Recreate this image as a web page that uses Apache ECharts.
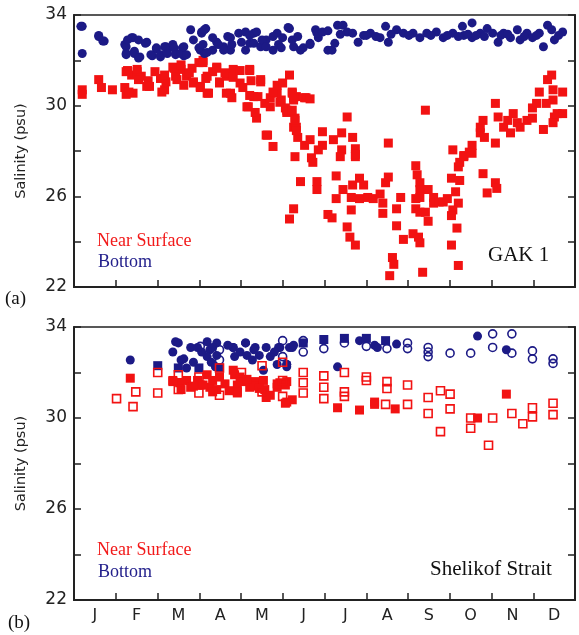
<!DOCTYPE html>
<html><head><meta charset="utf-8">
<script src="https://cdn.jsdelivr.net/npm/echarts@6/dist/echarts.min.js"></script>
<style>html,body{margin:0;padding:0;background:#fff}#c{width:579px;height:635px}</style>
</head><body><div id="c"></div>
<script>
// x = day of year, y = salinity (psu)
const months = ['J','F','M','A','M','J','J','A','S','O','N','D'];
const yTicks = [22,26,30,34];

const gakBottom = [
[6,33.5],[6,32.3],[18,33.1],[22,32.85],[5,33.5],[18,33.05],[21,32.85],
[37,32.7],[38,32.3],[42,33.0],[43,33.0],[44,32.4],[48,32.15],[53,32.8],[57,32.2],[60,32.5],[63,32.15],[67,32.6],[68,32.45],[72,32.7],[74,32.3],[79,32.55],[80,32.2],[85,33.35],[87,32.9],[93,33.2],[96,33.4],[92,32.45],[95,32.3],[101,32.45],[104,32.8],[109,32.6],[114,33.0],[114,32.45],[120,33.2],[125,33.25],[131,33.2],[133,33.25],[128,32.75],[136,32.6],[140,32.9],[145,32.45],[148,33.2],[152,33.0],[157,33.4],[160,32.6],
[38,32.6],[39,32.9],[47,32.9],[52,32.75],[38,32.25],[44,32.3],[47,32.1],[56,32.25],[60,32.55],[63,32.25],[66,32.6],[68,32.3],[73,32.55],[74,32.25],[78,32.3],[80,32.6],[82,32.25],[91,32.55],[93,33.25],
[95,33.35],[94,32.7],[97,32.35],[101,33.0],[105,32.7],[109,32.45],[112,33.05],[115,32.7],[122,32.8],[125,32.45],[128,33.1],[131,32.75],[137,32.9],[140,32.6],[145,33.05],[149,32.7],[151,32.55],[156,33.45],[159,32.9],[163,33.05],[167,32.55],[172,32.7],[176,33.35],[178,33.0],[185,32.45],
[165,32.45],[172,32.75],[177,33.2],[181,33.25],[188,32.45],[190,32.75],[192,33.55],[196,33.55],[199,33.25],[203,33.2],[207,32.8],[211,33.1],[216,33.2],[223,33.0],[227,33.5],[229,32.8],[235,33.35],[240,33.2],[247,33.2],[252,33.0],[257,33.2],[264,33.25],[269,33.0],[276,33.2],[283,33.5],[284,33.1],[290,33.65],[290,33.0],[296,33.2],[301,33.4],[305,33.2],[309,32.8],[313,33.2],[318,33.0],[323,33.35],[325,32.9],[330,33.2],[334,33.0],[339,33.2],[342,32.6],[345,33.55],[348,33.35],[350,32.9],[356,33.25],
[244,33.1],[260,33.1],[272,33.1],[280,33.05],[287,33.15],[293,33.1],[299,33.05],[311,33.1],[316,33.15],[328,33.05],[337,33.1],[353,33.1],[220,33.05],[231,33.15],[213,33.1],[185,33.3],[194,33.15]
];

const gakSurface = [
[6,30.7],[6,30.5],[18,31.15],[20,30.8],[28,30.7],[37,30.8],[38,30.5],[39,31.55],[42,31.35],[43,30.55],[46,31.5],[49,31.3],[53,30.85],[54,31.1],[59,31.5],[63,31.2],[66,30.7],[67,31.05],[72,31.7],[74,31.3],[78,31.6],[80,30.9],[82,31.3],[86,31.65],[87,31.0],[92,30.85],[94,32.0],[97,31.3],[98,30.55],[101,31.5],[104,31.7],[106,31.0],[111,31.3],[114,30.55],[116,31.6],[121,31.0],[126,29.95],[128,31.6],[131,30.4],[133,29.45],[136,31.15],[140,28.7],[143,29.95],[145,28.2],[148,30.55],[151,30.25],[155,29.8],[157,31.35],[160,29.05],[161,27.75],[162,30.4],[165,26.65],[160,25.45],[157,25.0],
[38,31.5],[40,30.6],[46,31.6],[47,31.15],[55,30.85],[64,30.6],[66,31.35],[73,31.65],[75,31.15],[78,31.8],[84,31.45],[87,31.05],[91,31.9],[92,30.8],
[94,31.9],[96,31.2],[97,30.55],[104,31.65],[106,31.05],[110,31.45],[111,30.55],[115,30.35],[116,31.25],[121,31.55],[123,30.8],[128,31.55],[129,31.1],[128,30.45],[127,29.95],[136,31.05],[134,30.4],[139,30.1],[143,30.35],[145,30.6],[148,30.9],[152,31.0],[150,30.15],[154,29.9],[159,30.6],[160,30.35],[155,29.7],[161,29.45],[169,30.35],
[132,29.7],[141,28.7],[162,29.05],[163,28.6],[168,28.25],[172,28.5],[181,28.85],[181,28.25],[174,27.5],[177,26.65],[177,26.3],[185,25.2],
[159,30.55],[160,30.25],[168,30.35],[172,30.3],[159,29.8],[161,29.35],[162,28.9],[178,28.05],[173,27.7],[189,28.5],[195,28.8],[199,29.5],[195,28.05],[203,28.6],[205,28.1],[194,27.75],[205,27.75],[229,28.35],[256,29.8],[276,28.05],[284,27.8],[288,27.95],[290,28.25],[296,28.8],[296,29.05],[298,29.35],[299,28.6],[307,30.1],[307,28.35],[309,29.5],[313,29.05],[316,29.35],[318,28.8],[320,29.65],[323,29.25],[325,29.05],[330,29.35],[334,29.45],[334,29.9],[337,30.1],[339,30.6],[342,28.95],[344,30.1],[345,31.15],[348,31.35],[349,30.7],[349,30.25],[350,29.5],[352,29.65],[356,30.6],[356,29.65],[349,29.25],
[188,25.05],[191,26.9],[191,25.9],[196,26.3],[199,24.65],[201,24.2],[202,25.4],[202,25.95],[205,23.85],[205,27.85],[203,26.5],[208,26.8],[208,25.9],[211,26.5],[214,25.95],[218,25.9],[223,26.1],[225,25.7],[225,25.25],[227,26.6],[229,26.85],[232,23.3],[233,23.0],[230,22.5],[235,24.7],[235,25.45],[238,25.95],[240,24.1],[247,24.35],[249,27.35],[250,26.95],[252,26.6],[252,26.3],[252,25.95],[249,25.9],[249,25.45],[252,25.3],[256,25.3],[258,24.9],[251,24.2],[252,23.95],[254,22.65],[258,26.3],[262,25.95],[262,25.7],[266,25.75],[269,25.75],[272,25.9],[275,26.8],[278,26.2],[280,25.7],[276,25.4],[275,25.15],[279,24.6],[275,23.85],[280,22.95],[280,27.3],[281,27.5],[284,27.75],[290,27.9],[281,26.7],[298,27.0],[301,26.15],[307,26.6],[308,26.35]
];

const shelBottomFilled = [
[41,32.55],[76,33.3],[72,32.9],[80,32.6],[85,33.1],[82,32.2],[87,32.45],[97,33.35],[99,33.0],[104,33.3],[97,32.7],[100,32.45],[103,32.25],[116,33.1],[117,32.7],[121,32.9],[125,33.3],[126,32.75],[130,32.55],[132,33.1],[135,32.75],[140,33.1],[143,32.7],[148,32.35],[150,33.1],[155,32.35],[159,33.1],[155,32.25],[192,32.25],[208,33.4],[219,33.2],[221,33.1],[235,33.25],[294,33.6],[315,33.0],
[74,33.35],[78,32.55],[90,33.1],[101,33.1],[104,32.75],[116,33.1],[125,33.3],[131,33.0],[138,32.1],[149,33.1],[157,33.1],[155,32.35],[112,33.2],[93,32.9],[146,32.9],[160,33.2]
];
const shelBottomSquare = [[61,32.3],[76,32.2],[91,32.2],[106,32.2],[167,33.3],[182,33.45],[197,33.5],[213,33.5],[227,33.4]];
const shelBottomOpen = [
[92,33.15],[106,33.0],[106,32.55],[152,33.4],[152,32.7],[167,33.4],[167,32.9],[182,33.05],[197,33.3],[213,33.15],[228,33.05],[243,33.3],[243,33.05],[258,33.1],[258,32.9],[258,32.7],[274,32.85],[289,32.85],[305,33.7],[305,33.1],[319,33.7],[319,32.85],[334,32.95],[334,32.6],[349,32.6],[349,32.4]
];
const shelSurfFilled = [
[41,31.75],[72,31.65],[77,31.55],[82,31.65],[85,31.35],[90,31.65],[92,31.45],[97,31.9],[99,31.35],[101,31.65],[106,31.8],[104,31.25],[117,31.9],[119,31.45],[121,31.8],[123,31.6],[119,31.1],[128,31.35],[132,31.6],[138,31.65],[139,31.25],[143,31.0],[148,31.35],[150,31.55],[155,31.6],[155,30.7],[159,30.8],[154,31.45],[154,30.65],[192,30.45],[208,30.35],[219,30.7],[219,30.6],[234,30.4],[294,30.0],[315,31.05],
[72,31.6],[78,31.25],[87,31.4],[94,31.45],[101,31.15],[116,32.1],[119,31.15],[131,31.4],[140,30.9],[148,31.5],[110,31.5],[113,31.2],[126,31.7],[135,31.3]
];
const shelSurfOpen = [
[31,30.85],[45,31.15],[43,30.5],[61,32.0],[61,31.1],[76,31.9],[76,31.25],[91,31.8],[91,31.1],[106,32.2],[106,31.0],[122,32.0],[137,32.3],[137,31.15],[152,32.45],[152,31.65],[152,30.95],[167,32.0],[167,31.55],[167,31.1],[182,31.85],[182,31.35],[182,30.85],[197,32.0],[197,31.15],[197,30.95],[213,31.8],[213,31.65],[228,31.6],[228,31.3],[227,30.6],[243,31.45],[243,30.6],[258,30.9],[258,30.2],[267,31.2],[267,29.4],[274,31.05],[274,30.4],[289,30.0],[289,29.55],[302,28.8],[305,30.0],[319,30.2],[327,29.75],[334,30.45],[334,30.05],[349,30.65],[349,30.15]
];

const RED = '#f21212', NAVY = '#1c1a86', AX = '#222';
const toM = arr => arr.map(p => [p[0] * 12 / 365, p[1]]);

function xVal(gi){
  return {type:'value', gridIndex:gi, min:0, max:12, interval:1,
    axisLine:{show:true, lineStyle:{color:AX, width:2}},
    axisTick:{show:true, inside:true, length:7, lineStyle:{color:AX, width:1.5}},
    axisLabel:{show:false}, splitLine:{show:false}};
}
function yLeft(gi){
  return {type:'value', gridIndex:gi, min:22, max:34, interval:2, position:'left',
    axisLine:{show:true, lineStyle:{color:AX, width:2}},
    axisTick:{show:true, inside:true, length:7, lineStyle:{color:AX, width:1.5}},
    axisLabel:{show:true, margin:7, color:AX, fontFamily:'DejaVu Sans', fontSize:17,
      formatter: v => yTicks.includes(v) ? String(v) : ''},
    splitLine:{show:false},
    name:'Salinity (psu)', nameLocation:'middle', nameGap:45, nameRotate:90,
    nameTextStyle:{fontFamily:'DejaVu Sans', fontSize:14.5, color:AX}};
}
function yRight(gi){
  return {type:'value', gridIndex:gi, min:22, max:34, interval:2, position:'right',
    axisLine:{show:true, lineStyle:{color:AX, width:2}},
    axisTick:{show:true, inside:true, length:7, lineStyle:{color:AX, width:1.5}},
    axisLabel:{show:false}, splitLine:{show:false}};
}
function sc(name, data, xi, yi, symbol, color, filled, size, z){
  return {name, type:'scatter', xAxisIndex:xi, yAxisIndex:yi, data:toM(data),
    symbol, symbolSize:size, z:z||2, silent:true,
    itemStyle: filled ? {color, opacity:1} : {color:'rgba(255,255,255,0)', borderColor:color, borderWidth:1.6, opacity:1}};
}

const chart = echarts.init(document.getElementById('c'), null, {renderer:'canvas'});
chart.setOption({
  animation:false,
  grid:[
    {left:74, right:4, top:15, height:272, show:true, borderColor:AX, borderWidth:1.5},
    {left:74, right:4, top:327, height:273, show:true, borderColor:AX, borderWidth:1.5}
  ],
  xAxis:[ xVal(0), xVal(1),
    {type:'category', gridIndex:1, data:months, boundaryGap:true, position:'bottom',
     axisLine:{show:false}, axisTick:{show:false},
     axisLabel:{show:true, margin:8, color:AX, fontFamily:'DejaVu Sans', fontSize:16, interval:0}}
  ],
  yAxis:[ yLeft(0), yRight(0), yLeft(1), yRight(1) ],
  series:[
    sc('GAK surface', gakSurface, 0, 0, 'rect', RED, true, 9, 2),
    sc('GAK bottom', gakBottom, 0, 0, 'circle', NAVY, true, 9, 3),
    sc('Shel bottom filled', shelBottomFilled, 1, 2, 'circle', NAVY, true, 9, 2),
    sc('Shel bottom square', shelBottomSquare, 1, 2, 'rect', NAVY, true, 9, 2),
    sc('Shel bottom open', shelBottomOpen, 1, 2, 'circle', NAVY, false, 8, 3),
    sc('Shel surface filled', shelSurfFilled, 1, 2, 'rect', RED, true, 9, 4),
    sc('Shel surface open', shelSurfOpen, 1, 2, 'rect', RED, false, 8, 5)
  ],
  graphic:[
    {type:'text', left:97, top:232, style:{text:'Near Surface', fill:'#f21a1a', font:'18px "Liberation Serif"'}},
    {type:'text', left:98, top:253, style:{text:'Bottom', fill:'#24218c', font:'18px "Liberation Serif"'}},
    {type:'text', left:488, top:245, style:{text:'GAK 1', fill:'#111', font:'21px "Liberation Serif"'}},
    {type:'text', left:5, top:290, style:{text:'(a)', fill:'#111', font:'19px "Liberation Serif"'}},
    {type:'text', left:97, top:541, style:{text:'Near Surface', fill:'#f21a1a', font:'18px "Liberation Serif"'}},
    {type:'text', left:98, top:563, style:{text:'Bottom', fill:'#24218c', font:'18px "Liberation Serif"'}},
    {type:'text', left:430, top:559, style:{text:'Shelikof Strait', fill:'#111', font:'21px "Liberation Serif"'}},
    {type:'text', left:8, top:614, style:{text:'(b)', fill:'#111', font:'19px "Liberation Serif"'}}
  ]
});
</script></body></html>
